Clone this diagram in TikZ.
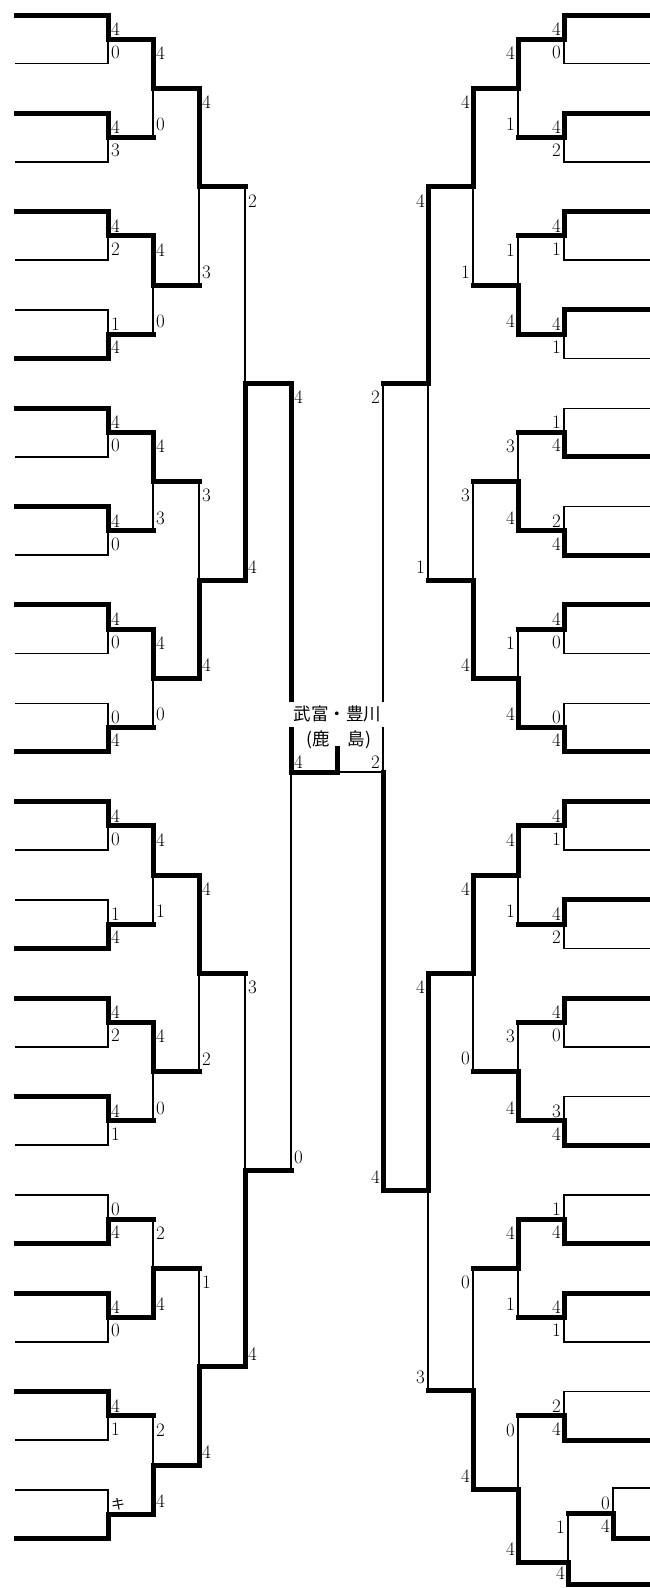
\documentclass[tikz,border=0pt]{standalone}
\usepackage{fontspec}
\newfontfamily\jp{Noto Sans CJK JP}
\tikzset{
  thn/.style={line width=1.5pt, line cap=rect},
  thk/.style={line width=5pt, line cap=rect, line join=miter},
  lab/.style={font=\fontsize{19}{19}\selectfont, inner sep=0pt},
  jtxt/.style={font=\jp\fontsize{17.5}{17.5}\selectfont, inner sep=0pt}
}
% first-round pair: side, k, winner(1 top/2 bottom), top score, bottom score
\newcommand\pr[5]{%
  \pgfmathsetmacro\yT{15+98.33*#2}%
  \pgfmathsetmacro\yB{\yT+48.5}%
  \pgfmathsetmacro\yM{\yT+24.25}%
  \if#1L\def\xa{16}\def\xv{108}\def\xo{153}\else\def\xa{650}\def\xv{564}\def\xo{518}\fi
  \ifnum#3=1
    \draw[thn] (\xa,\yB) -- (\xv,\yB) -- (\xv,\yM);
    \draw[thk] (\xa,\yT) -- (\xv,\yT) -- (\xv,\yM) -- (\xo,\yM);
  \else
    \draw[thn] (\xa,\yT) -- (\xv,\yT) -- (\xv,\yM);
    \draw[thk] (\xa,\yB) -- (\xv,\yB) -- (\xv,\yM) -- (\xo,\yM);
  \fi
  \if#1L
    \node[lab,anchor=west] at (\xv+3,\yM-10) {#4};
    \node[lab,anchor=west] at (\xv+3,\yM+13) {#5};
  \else
    \node[lab,anchor=east] at (\xv-3,\yM-10) {#4};
    \node[lab,anchor=east] at (\xv-3,\yM+13) {#5};
  \fi
}
% later-round match: side, xv, xout, ytop, ybot, yjunction, winner, top score, bottom score
\newcommand\mt[9]{%
  \ifnum#7=1
    \draw[thn] (#2,#6) -- (#2,#5);
    \draw[thk] (#2,#4) -- (#2,#6) -- (#3,#6);
  \else
    \draw[thn] (#2,#4) -- (#2,#6);
    \draw[thk] (#2,#5) -- (#2,#6) -- (#3,#6);
  \fi
  \if#1L
    \node[lab,anchor=west] at (#2+3,#4+14) {#8};
    \node[lab,anchor=west] at (#2+3,#5-13) {#9};
  \else
    \node[lab,anchor=east] at (#2-3,#4+14) {#8};
    \node[lab,anchor=east] at (#2-3,#5-13) {#9};
  \fi
}
\begin{document}
\begin{tikzpicture}[x=1pt,y=-1pt]
\fill[white] (0,0) rectangle (650,1588);
\useasboundingbox (0,0) rectangle (650,1588);

% ---------------- LEFT: first round
\pr{L}{0}{1}{4}{0}
\pr{L}{1}{1}{4}{3}
\pr{L}{2}{1}{4}{2}
\pr{L}{3}{2}{1}{4}
\pr{L}{4}{1}{4}{0}
\pr{L}{5}{1}{4}{0}
\pr{L}{6}{1}{4}{0}
\pr{L}{7}{2}{0}{4}
\pr{L}{8}{1}{4}{0}
\pr{L}{9}{2}{1}{4}
\pr{L}{10}{1}{4}{2}
\pr{L}{11}{1}{4}{1}
\pr{L}{12}{2}{0}{4}
\pr{L}{13}{1}{4}{0}
\pr{L}{14}{1}{4}{1}
\pr{L}{15}{2}{\jp\fontsize{14}{14}\selectfont キ}{}

% LEFT: second round
\mt{L}{153}{199}{39.25}{137.58}{88.42}{1}{4}{0}
\mt{L}{153}{199}{235.91}{334.24}{285.08}{1}{4}{0}
\mt{L}{153}{199}{432.57}{530.9}{481.74}{1}{4}{3}
\mt{L}{153}{199}{629.23}{727.56}{678.40}{1}{4}{0}
\mt{L}{153}{199}{825.89}{924.22}{875.06}{1}{4}{1}
\mt{L}{153}{199}{1022.55}{1120.88}{1071.72}{1}{4}{0}
\mt{L}{153}{199}{1219.21}{1317.54}{1268.38}{2}{2}{4}
\mt{L}{153}{199}{1415.87}{1514.2}{1465.04}{2}{2}{4}
% LEFT: third round
\mt{L}{199}{245}{88.42}{285.08}{186.75}{1}{4}{3}
\mt{L}{199}{245}{481.74}{678.40}{580.07}{2}{3}{4}
\mt{L}{199}{245}{875.06}{1071.72}{973.39}{1}{4}{2}
\mt{L}{199}{245}{1268.38}{1465.04}{1366.71}{2}{1}{4}
% LEFT: fourth round
\mt{L}{245}{291}{186.75}{580.07}{383.41}{2}{2}{4}
\mt{L}{245}{291}{973.39}{1366.71}{1170.05}{2}{3}{4}
% LEFT: semifinal + final
\draw[thn] (291,772) -- (291,1170.05);
\draw[thk] (291,383.41) -- (291,772) -- (337,772) -- (337,748);
\node[lab,anchor=west] at (294,397) {4};
\node[lab,anchor=west] at (294,1157) {0};

% ---------------- RIGHT: first round
\pr{R}{0}{1}{4}{0}
\pr{R}{1}{1}{4}{2}
\pr{R}{2}{1}{4}{1}
\pr{R}{3}{1}{4}{1}
\pr{R}{4}{2}{1}{4}
\pr{R}{5}{2}{2}{4}
\pr{R}{6}{1}{4}{0}
\pr{R}{7}{2}{0}{4}
\pr{R}{8}{1}{4}{1}
\pr{R}{9}{1}{4}{2}
\pr{R}{10}{1}{4}{0}
\pr{R}{11}{2}{3}{4}
\pr{R}{12}{2}{1}{4}
\pr{R}{13}{1}{4}{1}
\pr{R}{14}{2}{2}{4}
% RIGHT: last block with preliminary match
\draw[thn] (650,1488) -- (613,1488) -- (613,1513);
\draw[thk] (650,1538) -- (613,1538) -- (613,1513) -- (568,1513);
\node[lab,anchor=east] at (610,1503) {0};
\node[lab,anchor=east] at (610,1526) {4};
\draw[thn] (568,1513) -- (568,1562);
\draw[thk] (650,1584) -- (568,1584) -- (568,1562) -- (518,1562);
\node[lab,anchor=east] at (565,1527) {1};
\node[lab,anchor=east] at (565,1573) {4};

% RIGHT: second round
\mt{R}{518}{473}{39.25}{137.58}{88.42}{1}{4}{1}
\mt{R}{518}{473}{235.91}{334.24}{285.08}{2}{1}{4}
\mt{R}{518}{473}{432.57}{530.9}{481.74}{2}{3}{4}
\mt{R}{518}{473}{629.23}{727.56}{678.40}{2}{1}{4}
\mt{R}{518}{473}{825.89}{924.22}{875.06}{1}{4}{1}
\mt{R}{518}{473}{1022.55}{1120.88}{1071.72}{2}{3}{4}
\mt{R}{518}{473}{1219.21}{1317.54}{1268.38}{1}{4}{1}
\mt{R}{518}{473}{1415.87}{1562}{1489}{2}{0}{4}
% RIGHT: third round
\mt{R}{473}{428}{88.42}{285.08}{186.75}{1}{4}{1}
\mt{R}{473}{428}{481.74}{678.40}{580.07}{2}{3}{4}
\mt{R}{473}{428}{875.06}{1071.72}{973.39}{1}{4}{0}
\mt{R}{473}{428}{1268.38}{1489}{1390}{2}{0}{4}
% RIGHT: fourth round
\mt{R}{428}{383}{186.75}{580.07}{383.41}{1}{4}{1}
\mt{R}{428}{383}{973.39}{1390}{1190}{1}{4}{3}
% RIGHT: semifinal
\draw[thn] (383,383.41) -- (383,772) -- (337,772);
\draw[thk] (383,1190) -- (383,772);
\node[lab,anchor=east] at (380,397) {2};
\node[lab,anchor=east] at (380,1177) {4};

% final scores
\node[lab,anchor=west] at (294,762) {4};
\node[lab,anchor=east] at (380,762) {2};

% champion name
\node[jtxt,fill=white,minimum width=98pt,minimum height=25pt] (champ) at (337.5,714) {武富・豊川};
\node[jtxt] (pref) at (339,740) {(鹿　島)};
\end{tikzpicture}
\end{document}
